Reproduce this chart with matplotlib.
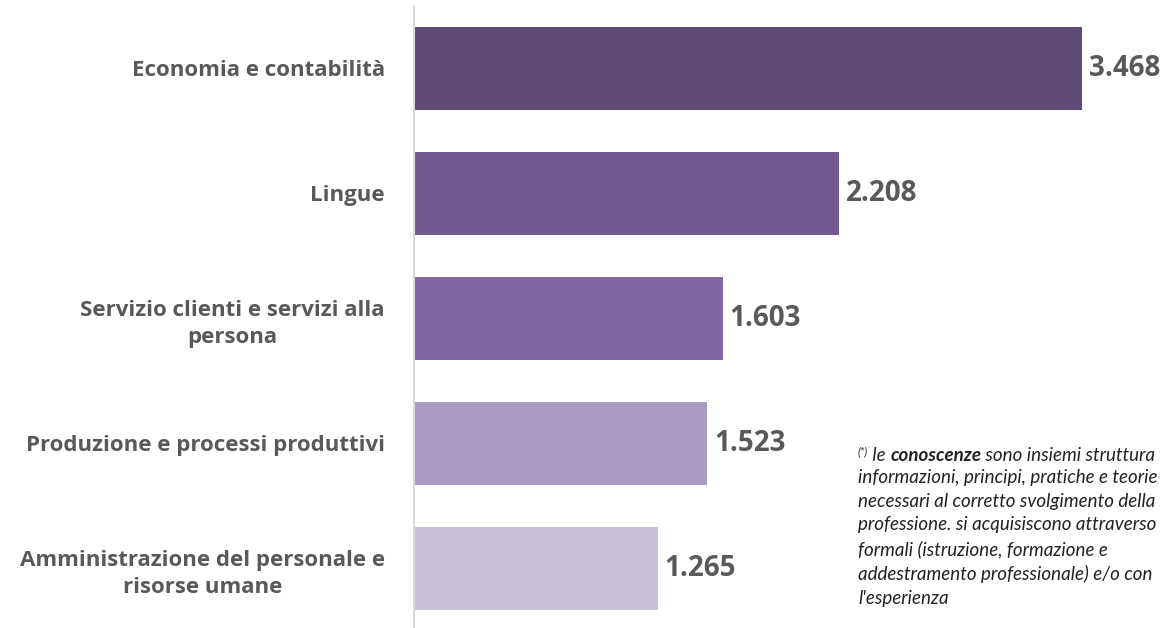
import matplotlib
matplotlib.use("Agg")
import matplotlib.pyplot as plt

categories = ["Economia e contabilità", "Lingue", "Servizio clienti e servizi alla\npersona",
              "Produzione e processi produttivi", "Amministrazione del personale e\nrisorse umane"]
values = [3.468, 2.208, 1.603, 1.523, 1.265]
value_labels = ["3.468", "2.208", "1.603", "1.523", "1.265"]
colors = ["#5F4A78", "#725A90", "#8366A3", "#A99BC2", "#C8C0D8"]

plt.rcParams['font.family'] = ['Open Sans', 'DejaVu Sans']
W, H = 1163, 628
fig = plt.figure(figsize=(W/100, H/100), dpi=100)
left = 414 / W
top = 1 - 6 / H
bottom = (H - 631) / H
scale = 192.6  # px per unit
xmax = 3.7
ax = fig.add_axes([left, bottom, xmax * scale / W, top - bottom])
ypos = list(range(len(values)))
ax.barh(ypos, values, height=0.67, color=colors)
ax.set_ylim(4.5, -0.5)
ax.set_xlim(0, xmax)
for s in ["top", "right", "bottom"]:
    ax.spines[s].set_visible(False)
ax.spines["left"].set_color("#D9D9D9")
ax.spines["left"].set_linewidth(1.5)
ax.set_xticks([])
ax.set_yticks(ypos)
ax.set_yticklabels(categories, fontsize=16, fontweight="bold", color="#595959",
                   multialignment="center", linespacing=1.35)
ax.tick_params(axis="y", length=0, pad=21)
for y, v, lab in zip(ypos, values, value_labels):
    ax.annotate(lab, (v, y), xytext=(5, 0), textcoords="offset points", va="center", ha="left",
                fontsize=20, fontweight="bold", color="#595959", annotation_clip=False)

# footnote
fx = 858 / W
c = "#222222"
fs = 13.5
fam = ["Lato", "DejaVu Sans"]
base1 = 1 - 462 / H
t1 = fig.text(fx, base1 + 7 / H, "(*)", fontsize=8, style="italic", color=c, va="baseline",
              family=fam)
ann1 = ax.annotate(" le ", xy=(1, 0), xycoords=t1, xytext=(0, -7 * 0.72), textcoords="offset points",
                   fontsize=fs, style="italic", color=c, va="bottom", ha="left",
                   annotation_clip=False, family=fam)
ann2 = ax.annotate("conoscenze", xy=(1, 0), xycoords=ann1, fontsize=fs, style="italic",
                   fontweight="bold", color=c, va="bottom", ha="left", annotation_clip=False,
                   family=fam)
ann3 = ax.annotate(" sono insiemi struttura", xy=(1, 0), xycoords=ann2, fontsize=fs,
                   style="italic", color=c, va="bottom", ha="left", annotation_clip=False,
                   family=fam)
rest = ("informazioni, principi, pratiche e teorie\n"
        "necessari al corretto svolgimento della\n"
        "professione. si acquisiscono attraverso\n"
        "formali (istruzione, formazione e\n"
        "addestramento professionale) e/o con\n"
        "l'esperienza")
fig.text(fx, 1 - 469 / H, rest, fontsize=fs, style="italic", color=c, va="top", ha="left",
         linespacing=1.47, family=fam)
fig.savefig("out.png", dpi=100)
